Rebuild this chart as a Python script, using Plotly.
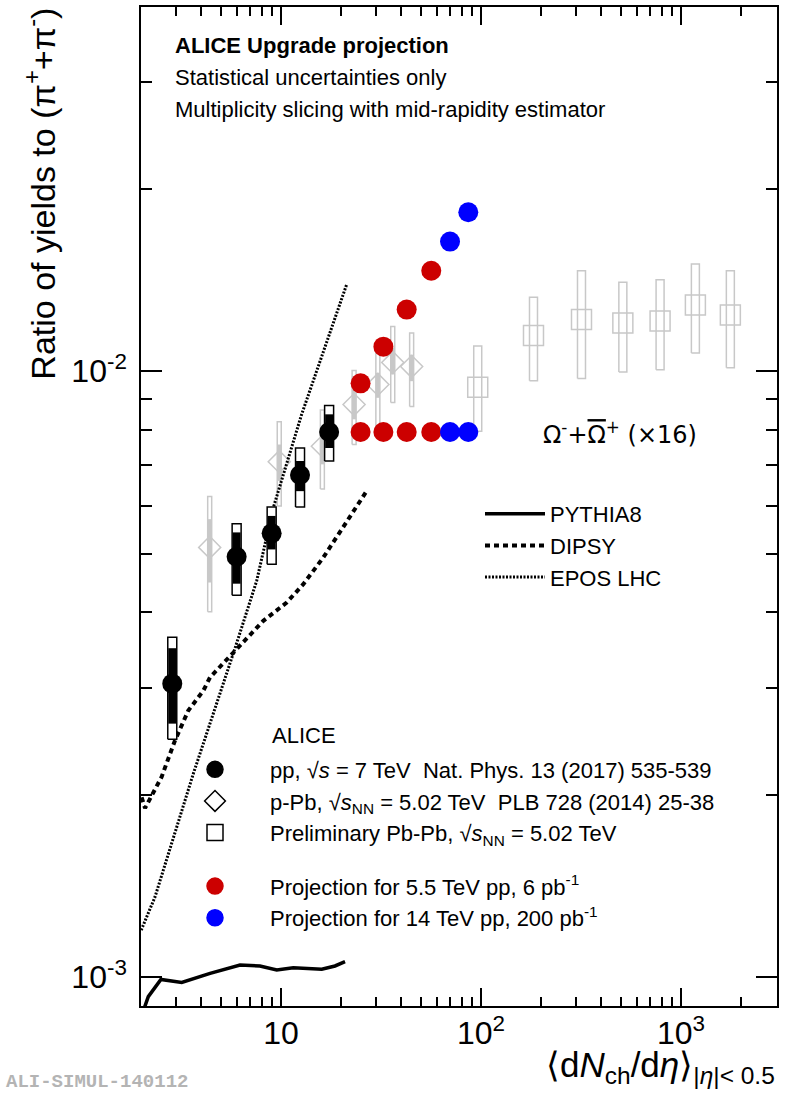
import numpy as np
import plotly.graph_objects as go

# ---------------- data ----------------
# pp 7 TeV (Nat. Phys. 13 (2017) 535-539), Omega/pi x16
pp_x = [2.86, 6.0, 8.98, 12.45, 17.4]
pp_y = [0.00305, 0.00494, 0.00540, 0.00674, 0.00794]
pp_stat_hi = [0.00349, 0.00542, 0.00577, 0.00711, 0.00849]
pp_stat_lo = [0.00262, 0.00446, 0.00508, 0.00634, 0.00747]
pp_sys_hi = [0.00364, 0.00560, 0.00597, 0.00747, 0.00878]
pp_sys_lo = [0.00247, 0.00427, 0.00480, 0.00597, 0.00711]

# p-Pb 5.02 TeV (PLB 728 (2014) 25-38)
ppb_x = [4.4, 9.8, 16.1, 23.2, 30.5, 36.2, 45.0]
ppb_y = [0.00512, 0.00709, 0.00752, 0.00881, 0.00951, 0.01034, 0.01018]
ppb_stat_hi = [0.00570, 0.00757, 0.00806, 0.00933, 0.00994, 0.01093, 0.01065]
ppb_stat_lo = [0.00448, 0.00659, 0.00702, 0.00833, 0.00904, 0.00988, 0.00963]
ppb_sys_hi = [0.00621, 0.00825, 0.00863, 0.01003, 0.01076, 0.01185, 0.01156]
ppb_sys_lo = [0.00401, 0.00599, 0.00639, 0.00757, 0.00806, 0.00888, 0.00875]

# Preliminary Pb-Pb 5.02 TeV
pbpb_x = [96.3, 183.0, 318.0, 512.0, 786.0, 1180.0, 1765.0]
pbpb_y = [0.00941, 0.01146, 0.01217, 0.01201, 0.01210, 0.01287, 0.01238]
pbpb_sys_hi = [0.01101, 0.01325, 0.01465, 0.01403, 0.01416, 0.01504, 0.01465]
pbpb_sys_lo = [0.00796, 0.00965, 0.00973, 0.00997, 0.01006, 0.01072, 0.01013]

# Projections
proj55_x = [25.0, 32.5, 42.5, 56.4]
proj55_y_up = [0.00955, 0.01098, 0.01264, 0.01465]
proj55_y_flat = [0.00794, 0.00794, 0.00794, 0.00794]
proj14_x = [70.0, 86.4]
proj14_y_up = [0.01637, 0.01830]
proj14_y_flat = [0.00794, 0.00794]

# Models
pythia_x = [2.05, 2.17, 2.51, 3.19, 4.42, 6.24, 7.85, 9.52, 11.52, 15.98, 18.62, 20.9]
pythia_y = [0.00088, 0.000928, 0.000991, 0.00098, 0.001014, 0.001047, 0.001043,
            0.001027, 0.001036, 0.00103, 0.001043, 0.00106]
dipsy_x = [2.01, 2.09, 2.53, 2.95, 3.44, 4.09, 4.42, 5.56, 6.48, 8.16, 10.68, 12.93,
           16.27, 20.48, 26.82]
dipsy_y = [0.00198, 0.00190, 0.00214, 0.002457, 0.002754, 0.00297, 0.003125, 0.003392,
           0.003568, 0.003873, 0.004152, 0.004452, 0.004926, 0.005517, 0.006343]
epos_x = [2.0, 2.344, 3.644, 4.586, 5.908, 7.557, 9.153, 12.68, 15.67, 21.31]
epos_y = [0.001195, 0.001356, 0.002166, 0.002719, 0.003501, 0.004508, 0.005953,
          0.008486, 0.01039, 0.01392]

x_major = [10, 100, 1000]
x_major_text = ["10", "10<sup>2</sup>", "10<sup>3</sup>"]
x_minor = [3, 4, 5, 6, 7, 8, 9, 20, 30, 40, 50, 60, 70, 80, 90,
           200, 300, 400, 500, 600, 700, 800, 900, 2000, 3000]
y_major = [0.001, 0.01]
y_major_text = ["10<sup>-3</sup>", "10<sup>-2</sup>"]
y_minor = [0.002, 0.003, 0.004, 0.005, 0.006, 0.007, 0.008, 0.009, 0.02, 0.03]

# ---------------- helpers ----------------
def box_path(xs, lo, hi, half_dec):
    f = 10 ** half_dec
    px, py = [], []
    for x, l, h in zip(xs, lo, hi):
        px += [x / f, x * f, x * f, x / f, x / f, None]
        py += [l, l, h, h, l, None]
    return px, py

GRAY = "#c8c8c8"
FONT = "Liberation Sans, Arial, Helvetica, sans-serif"

fig = go.Figure()

# Pb-Pb sys boxes + markers
bx, by = box_path(pbpb_x, pbpb_sys_lo, pbpb_sys_hi, 0.02)
fig.add_trace(go.Scatter(x=bx, y=by, mode="lines", line=dict(color=GRAY, width=1.5),
                         showlegend=False, hoverinfo="skip"))
fig.add_trace(go.Scatter(x=pbpb_x, y=pbpb_y, mode="markers",
                         marker=dict(symbol="square-open", size=20, color=GRAY,
                                     line=dict(width=1.5, color=GRAY)),
                         showlegend=False))

# p-Pb sys boxes + stat + markers
bx, by = box_path(ppb_x, ppb_sys_lo, ppb_sys_hi, 0.01)
fig.add_trace(go.Scatter(x=bx, y=by, mode="lines", line=dict(color=GRAY, width=1.5),
                         showlegend=False, hoverinfo="skip"))
fig.add_trace(go.Scatter(
    x=ppb_x, y=ppb_y, mode="markers",
    error_y=dict(type="data", symmetric=False,
                 array=[h - y for h, y in zip(ppb_stat_hi, ppb_y)],
                 arrayminus=[y - l for l, y in zip(ppb_stat_lo, ppb_y)],
                 color=GRAY, thickness=4, width=0),
    marker=dict(symbol="diamond-open", size=17, color=GRAY, line=dict(width=1.5, color=GRAY)),
    showlegend=False))

# Models
fig.add_trace(go.Scatter(x=pythia_x, y=pythia_y, mode="lines", name="PYTHIA8",
                         line=dict(color="black", width=3.5), legend="legend2"))
fig.add_trace(go.Scatter(x=dipsy_x, y=dipsy_y, mode="lines", name="DIPSY",
                         line=dict(color="black", width=4, dash="5px,4px"), legend="legend2"))
fig.add_trace(go.Scatter(x=epos_x, y=epos_y, mode="lines", name="EPOS LHC",
                         line=dict(color="black", width=3, dash="2px,1.5px"), legend="legend2"))

# pp sys boxes (white filled) + stat + markers
bx, by = box_path(pp_x, pp_sys_lo, pp_sys_hi, 0.0225)
fig.add_trace(go.Scatter(x=bx, y=by, mode="lines", fill="toself", fillcolor="white",
                         line=dict(color="black", width=1.5),
                         showlegend=False, hoverinfo="skip"))
fig.add_trace(go.Scatter(
    x=pp_x, y=pp_y, mode="markers",
    error_y=dict(type="data", symmetric=False,
                 array=[h - y for h, y in zip(pp_stat_hi, pp_y)],
                 arrayminus=[y - l for l, y in zip(pp_stat_lo, pp_y)],
                 color="black", thickness=8, width=0),
    marker=dict(symbol="circle", size=20, color="black"),
    showlegend=False))

# Projections
for xs, ys, col in [(proj55_x, proj55_y_up, "#cc0000"), (proj55_x, proj55_y_flat, "#cc0000"),
                    (proj14_x, proj14_y_up, "#0000ff"), (proj14_x, proj14_y_flat, "#0000ff")]:
    fig.add_trace(go.Scatter(x=xs, y=ys, mode="markers",
                             marker=dict(symbol="circle", size=20, color=col),
                             showlegend=False))

# Legend entries (legend 1)
leg_items = [
    ("pp, √<i>s</i> = 7 TeV  Nat. Phys. 13 (2017) 535-539", "circle", "black", "a"),
    ("p-Pb, √<i>s</i><sub>NN</sub> = 5.02 TeV  PLB 728 (2014) 25-38", "diamond-open", "black", "a"),
    ("Preliminary Pb-Pb, √<i>s</i><sub>NN</sub> = 5.02 TeV", "square-open", "black", "a"),
    ("Projection for 5.5 TeV pp, 6 pb<sup>-1</sup>", "circle", "#cc0000", "b"),
    ("Projection for 14 TeV pp, 200 pb<sup>-1</sup>", "circle", "#0000ff", "b"),
]
for name, sym, col, grp in leg_items:
    fig.add_trace(go.Scatter(x=[None], y=[None], mode="markers", name=name,
                             legendgroup=grp,
                             marker=dict(symbol=sym, size=20, color=col,
                                         line=dict(width=1.5, color=col)),
                             legend="legend"))

W, H = 793, 1094
L, R, T, B = 141, 777, 5, 1006
def pxx(p):
    return (p - L) / (R - L)
def pxy(p):
    return (B - p) / (B - T)

annotations = [
    dict(text="<b>ALICE Upgrade projection</b>", x=pxx(173), y=pxy(44), size=22, fam=FONT),
    dict(text="Statistical uncertainties only", x=pxx(173), y=pxy(76), size=22, fam=FONT),
    dict(text="Multiplicity slicing with mid-rapidity estimator", x=pxx(173), y=pxy(108), size=22, fam=FONT),
    dict(text="Ω<sup>-</sup>+<span style=\"text-decoration:overline\">Ω</span><sup>+</sup> (×16)",
         x=pxx(541), y=pxy(432), size=24, fam="DejaVu Sans, sans-serif"),
    dict(text="ALICE", x=pxx(270), y=pxy(735), size=22, fam=FONT),
]
ann = []
for a in annotations:
    ann.append(dict(text=a["text"], x=a["x"], y=a["y"], xref="paper", yref="paper",
                    xanchor="left", yanchor="middle", showarrow=False,
                    font=dict(size=a["size"], color="black", family=a["fam"])))
ann.append(dict(text="Ratio of yields to (π<sup>+</sup>+π<sup>-</sup>)", textangle=-90,
                x=pxx(40), y=pxy(192), xref="paper", yref="paper", xanchor="center",
                yanchor="middle", showarrow=False, font=dict(size=34, color="black", family=FONT)))
ann.append(dict(text="⟨d<i>N</i><sub>ch</sub>/d<i>η</i>⟩<sub>|<i>η</i>|< 0.5</sub>",
                x=1.0, y=pxy(1043), xref="paper", yref="paper", xanchor="right",
                yanchor="top", showarrow=False, font=dict(size=35, color="black", family=FONT)))
ann.append(dict(text="<b>ALI-SIMUL-140112</b>", x=pxx(4), y=pxy(1082), xref="paper", yref="paper",
                xanchor="left", yanchor="middle", showarrow=False,
                font=dict(size=19, color="#b4b4b4", family="Liberation Mono, Courier New, monospace")))

axis_common = dict(showline=True, linecolor="black", linewidth=1.5, mirror="ticks",
                   ticks="inside", tickcolor="black", tickwidth=1.5, showgrid=False,
                   zeroline=False, tickfont=dict(size=32, color="black", family=FONT))

fig.update_layout(
    width=W, height=H,
    margin=dict(l=L, r=W - R, t=T, b=H - B),
    paper_bgcolor="white", plot_bgcolor="white",
    xaxis=dict(type="log", range=[0.30, 3.48], tickmode="array", tickvals=x_major,
               ticktext=x_major_text, ticklen=18, ticklabelstandoff=-2,
               minor=dict(tickmode="array", tickvals=x_minor, ticklen=9, ticks="inside",
                          tickcolor="black", tickwidth=1.5, showgrid=False),
               **axis_common),
    yaxis=dict(type="log", range=[-3.0478, -1.3987], tickmode="array", tickvals=y_major,
               ticktext=y_major_text, ticklen=21, ticklabelstandoff=6,
               minor=dict(tickmode="array", tickvals=y_minor, ticklen=11, ticks="inside",
                          tickcolor="black", tickwidth=1.5, showgrid=False),
               **axis_common),
    legend=dict(x=pxx(160), y=pxy(748), xanchor="left", yanchor="top", bgcolor="rgba(0,0,0,0)",
                font=dict(size=22, color="black", family=FONT), itemwidth=100,
                traceorder="grouped", tracegroupgap=22, itemsizing="trace"),
    legend2=dict(x=pxx(480), y=pxy(492), xanchor="left", yanchor="top", bgcolor="rgba(0,0,0,0)",
                 font=dict(size=22, color="black", family=FONT), itemwidth=60),
    annotations=ann,
    showlegend=True,
)

fig.write_html("out.html", config={"displayModeBar": False},
               post_script="document.body.style.margin='0px';")
